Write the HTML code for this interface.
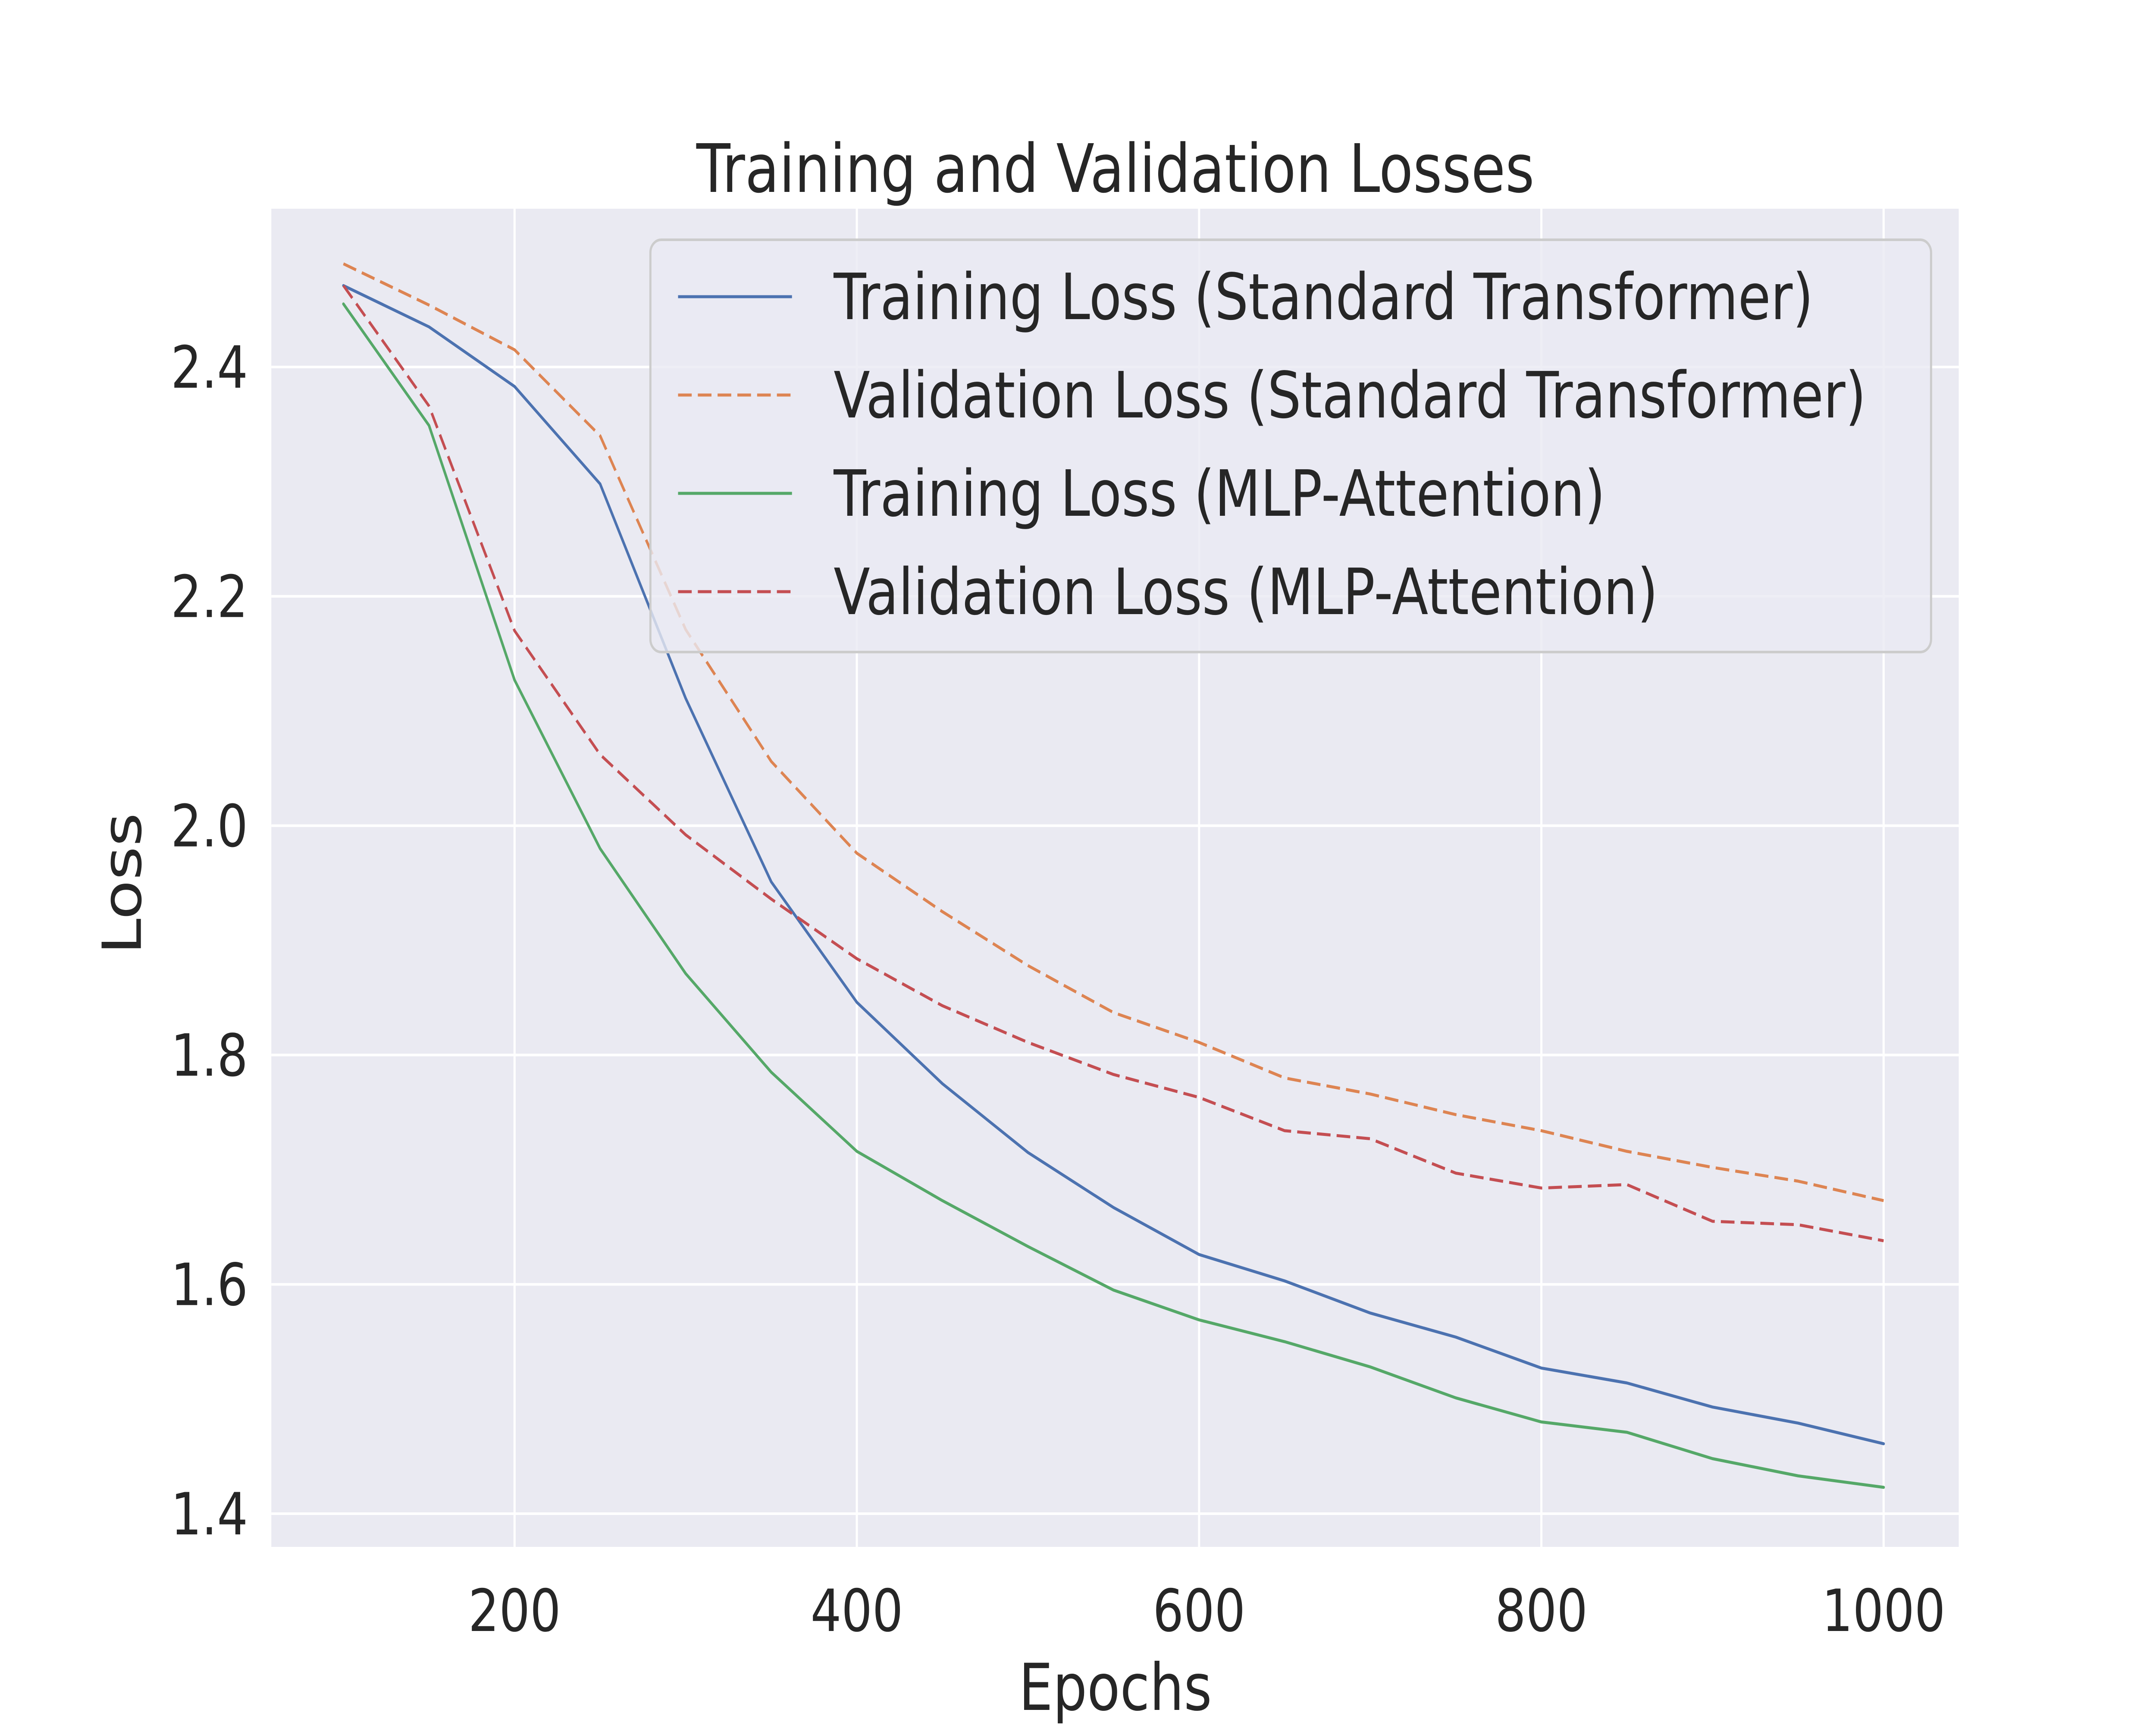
<!DOCTYPE html>
<html><head><meta charset="utf-8"><style>
html,body{margin:0;padding:0;background:#fff;width:100%;height:100%;overflow:hidden;}
svg{display:block;width:100vw;height:100vh;font-family:"DejaVu Sans","Liberation Sans",sans-serif;}
</style></head><body>
<svg id="chart" viewBox="0 0 6000 4000" preserveAspectRatio="none" xmlns="http://www.w3.org/2000/svg">
<rect x="755" y="484" width="4696" height="3103" fill="#eaeaf2"/>
<g id="grid"></g>
<g id="series"></g>
<g id="ticks"></g>
<text x="3104" y="445" font-size="155" fill="#262626" text-anchor="middle">Training and Validation Losses</text>
<text x="3104" y="3965" font-size="150" fill="#262626" text-anchor="middle">Epochs</text>
<text transform="translate(392,2049) rotate(-90)" font-size="150" fill="#262626" text-anchor="middle">Loss</text>
<g id="legend">
<rect x="1810" y="556" width="3564" height="956" rx="30" fill="#eaeaf2" fill-opacity="0.8" stroke="#cccccc" stroke-width="6"/>
</g>
</svg>
<script>
const epochs=[100,150,200,250,300,350,400,450,500,550,600,650,700,750,800,850,900,950,1000];
const trainStd=[2.471,2.435,2.383,2.298,2.111,1.951,1.846,1.775,1.715,1.667,1.626,1.603,1.575,1.554,1.527,1.514,1.493,1.479,1.461];
const valStd=[2.490,2.454,2.415,2.340,2.171,2.056,1.976,1.925,1.878,1.837,1.811,1.780,1.766,1.748,1.734,1.716,1.702,1.690,1.673];
const trainMlp=[2.455,2.349,2.127,1.980,1.871,1.785,1.716,1.673,1.633,1.595,1.569,1.550,1.528,1.501,1.480,1.471,1.448,1.433,1.423];
const valMlp=[2.471,2.366,2.170,2.062,1.992,1.936,1.884,1.843,1.811,1.783,1.763,1.734,1.727,1.697,1.684,1.687,1.655,1.652,1.638];
const xTicks=[200,400,600,800,1000];
const yTicks=[1.4,1.6,1.8,2.0,2.2,2.4];
const yTickLabels=["1.4","1.6","1.8","2.0","2.2","2.4"];
const seriesNames=["Training Loss (Standard Transformer)","Validation Loss (Standard Transformer)","Training Loss (MLP-Attention)","Validation Loss (MLP-Attention)"];

const NS="http://www.w3.org/2000/svg";
function sx(v){return 1432+(v-200)*(5242-1432)/800;}
function sy(v){return 3510-(v-1.4)*(3510-851)/1.0;}
function mk(tag,attrs,parent){const e=document.createElementNS(NS,tag);for(const k in attrs)e.setAttribute(k,attrs[k]);parent.appendChild(e);return e;}
const grid=document.getElementById('grid'),ticks=document.getElementById('ticks'),series=document.getElementById('series'),legend=document.getElementById('legend');
xTicks.forEach(t=>{
  const l=mk('line',{x1:sx(t),x2:sx(t),y1:484,y2:3587,stroke:'#fff','stroke-width':6},grid);
  
  
  const tx=mk('text',{x:sx(t),y:3782,'font-size':135,fill:'#262626','text-anchor':'middle'},ticks);
  tx.textContent=String(t);
  
  
});
yTicks.forEach((t,i)=>{
  const l=mk('line',{x1:755,x2:5451,y1:sy(t),y2:sy(t),stroke:'#fff','stroke-width':6},grid);
  
  
  const tx=mk('text',{x:690,y:sy(t)+48,'font-size':135,fill:'#262626','text-anchor':'end'},ticks);
  tx.textContent=yTickLabels[i];
  
  
});
const defs=[[trainStd,'#4c72b0',null,'line-train-standard'],[valStd,'#dd8452','38 17','line-val-standard'],[trainMlp,'#55a868',null,'line-train-mlp'],[valMlp,'#c44e52','38 17','line-val-mlp']];
defs.forEach((d,i)=>{
  const pts=epochs.map((e,j)=>sx(e)+','+sy(d[0][j])).join(' ');
  const a={points:pts,fill:'none',stroke:d[1],'stroke-width':7,'stroke-linejoin':'round'};
  if(d[2])a['stroke-dasharray']=d[2];else a['stroke-linecap']='round';
  const p=mk('polyline',a,series);
  
  
  const y=688+i*228;
  const la={x1:1887,x2:2204,y1:y,y2:y,stroke:d[1],'stroke-width':7};
  if(d[2])la['stroke-dasharray']=d[2];
  const ll=mk('line',la,legend);
  
  
  const t=mk('text',{x:2320,y:y+52,'font-size':148,fill:'#262626'},legend);
  t.textContent=seriesNames[i];
  
  
});
</script>
</body></html>
